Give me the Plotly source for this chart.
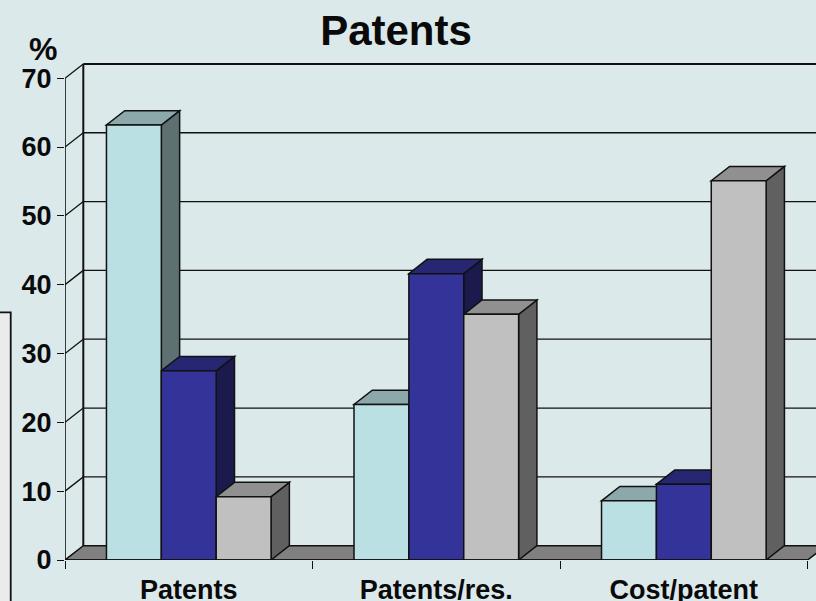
import plotly.graph_objects as go

categories = ["Patents", "Patents/res.", "Cost/patent"]
series_a = [63.2, 22.6, 8.6]
series_b = [27.5, 41.6, 11.0]
series_c = [9.2, 35.7, 55.1]
y_ticks = [0, 10, 20, 30, 40, 50, 60, 70]

front_colors = ["#BBE0E3", "#333399", "#C0C0C0"]
top_colors = ["#8CA8AA", "#262673", "#909090"]
side_colors = ["#5E7072", "#1A1A4D", "#606060"]
BG = "#DCE9EA"
LINE = "#111111"
FONT = "Liberation Sans, Arial, sans-serif"

W, H = 816, 601
LEFT = 64.8
ZERO_Y = 559.6
UNIT_X = 247.6
UNIT_Y = 6.88
DX = 18.3 / UNIT_X
DY = 14.3 / UNIT_Y
Y_TOP = 72.5
X_TOP = (W - LEFT) / UNIT_X
BARGAP = 0.335
BAR_W = (1 - BARGAP) / 3
X_POS = [i + 0.5 for i in range(len(categories))]


def poly(pts, fill, width=1.5, color=LINE):
    path = "M " + " L ".join(f"{x},{y}" for x, y in pts) + " Z"
    return dict(type="path", path=path, xref="x", yref="y", layer="between",
                fillcolor=fill, line=dict(color=color, width=width))


def seg(x0, y0, x1, y1, width=1.3):
    return dict(type="line", x0=x0, y0=y0, x1=x1, y1=y1, xref="x", yref="y",
                layer="between", line=dict(color=LINE, width=width))


plot_h = Y_TOP * UNIT_Y
shapes = []
# grey box partly visible at left edge
shapes.append(dict(type="rect", xref="paper", yref="paper", layer="below",
                   x0=(-20 - LEFT) / (W - LEFT),
                   x1=(10.5 - LEFT) / (W - LEFT),
                   y0=-0.2, y1=(ZERO_Y - 312) / plot_h,
                   fillcolor="#EBEBEB", line=dict(color=LINE, width=1.8)))
# floor
shapes.append(poly([(0, 0), (3, 0), (3 + DX, DY), (DX, DY)], "#808080", 1.5))
# back-wall grid and side-wall slants
for v in y_ticks[1:]:
    shapes.append(seg(0, v, DX, v + DY, 1.3))
    shapes.append(seg(DX, v + DY, X_TOP, v + DY, 2.0 if v == 70 else 1.3))
shapes.append(seg(DX, DY, DX, 70 + DY, 2.0))

# depth faces of each bar
all_series = [series_a, series_b, series_c]
for c, xc in enumerate(X_POS):
    for s, vals in enumerate(all_series):
        v = vals[c]
        x0 = xc + (s - 1.5) * BAR_W
        x1 = x0 + BAR_W
        shapes.append(poly([(x1, 0), (x1 + DX, DY), (x1 + DX, v + DY), (x1, v)], side_colors[s]))
        shapes.append(poly([(x0, v), (x1, v), (x1 + DX, v + DY), (x0 + DX, v + DY)], top_colors[s]))

fig = go.Figure()
for s, vals in enumerate(all_series):
    fig.add_trace(go.Bar(x=X_POS, y=vals, showlegend=False, hoverinfo="skip",
                         marker=dict(color=front_colors[s], line=dict(color=LINE, width=1.5))))

# front axis lines: y axis up to 70 and base line up to the last category boundary
fig.add_trace(go.Scatter(x=[0, 0, 3], y=[70, 0, 0], mode="lines", cliponaxis=False,
                         showlegend=False, hoverinfo="skip",
                         line=dict(color=LINE, width=1.6)))

tick_font = dict(family=FONT, size=27, color="#0A0A0A", weight="bold")
fig.update_layout(
    width=W, height=H, autosize=False,
    paper_bgcolor=BG, plot_bgcolor=BG,
    margin=dict(l=LEFT, r=0, t=ZERO_Y - plot_h, b=H - ZERO_Y, pad=0, autoexpand=False),
    barmode="group", bargap=BARGAP, bargroupgap=0,
    shapes=shapes,
    title=dict(text="<b>Patents</b>", x=396 / W, xanchor="center", y=1 - 30 / H, yanchor="middle",
               font=dict(family=FONT, size=42, color="#0A0A0A")),
    annotations=[dict(text="<b>%</b>", xref="paper", yref="paper", showarrow=False,
                      x=(43 - LEFT) / (W - LEFT), y=(ZERO_Y - 49) / plot_h,
                      xanchor="center", yanchor="middle",
                      font=dict(family=FONT, size=32, color="#0A0A0A"))],
    xaxis=dict(range=[0, X_TOP], tickmode="array", tickvals=X_POS, ticktext=categories,
               ticks="", showgrid=False, zeroline=False, showline=False, tickfont=tick_font,
               ticklabelstandoff=11, automargin=False,
               minor=dict(tickmode="array", tickvals=[0, 1, 2, 3], ticks="outside", ticklen=8,
                          tickwidth=1.2, tickcolor=LINE, showgrid=False)),
    yaxis=dict(range=[0, Y_TOP], tickmode="array", tickvals=y_ticks, ticks="outside", ticklen=7,
               tickwidth=1.4, tickcolor=LINE, showgrid=False, zeroline=False, showline=False,
               tickfont=tick_font, ticklabelstandoff=0, automargin=False),
)

fig.write_html("out.html", config={"displayModeBar": False},
               post_script="document.documentElement.style.overflow='hidden';"
                           "document.body.style.margin='0';"
                           "document.body.style.background='" + BG + "';")
